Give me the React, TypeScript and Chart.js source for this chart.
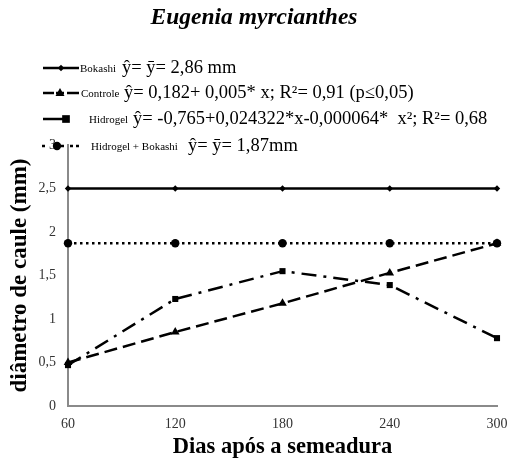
import React, { useEffect, useRef } from 'react';
import { Chart, registerables } from 'chart.js';

Chart.register(...registerables);

const days = [60, 120, 180, 240, 300];
const bokashi = [2.5, 2.5, 2.5, 2.5, 2.5];
const controle = [0.5, 0.85, 1.18, 1.53, 1.87];
const hidrogel = [0.47, 1.23, 1.55, 1.39, 0.78];
const hidrogelBokashi = [1.87, 1.87, 1.87, 1.87, 1.87];

const seriesNames = ['Bokashi', 'Controle', 'Hidrogel', 'Hidrogel + Bokashi'];
const equations = [
  'ŷ= ȳ= 2,86 mm',
  'ŷ= 0,182+ 0,005* x; R²= 0,91 (p≤0,05)',
  'ŷ= -0,765+0,024322*x-0,000064*  x²; R²= 0,68',
  'ŷ= ȳ= 1,87mm',
];
const chartTitle = 'Eugenia myrcianthes';
const xTitle = 'Dias após a semeadura';
const yTitle = 'diâmetro de caule (mm)';

const FONT = '"Liberation Serif", "Times New Roman", serif';

const styles = [
  { dash: [] as number[], point: 'rectRot', radius: 3.2 },
  { dash: [13, 6], point: 'triangle', radius: 5 },
  { dash: [15, 7, 3, 7], point: 'rect', radius: 4.3 },
  { dash: [2.5, 3.5], point: 'circle', radius: 4.2 },
];

function drawMarker(ctx: CanvasRenderingContext2D, style: string, x: number, y: number, r: number) {
  ctx.save();
  ctx.fillStyle = '#000';
  ctx.setLineDash([]);
  ctx.beginPath();
  if (style === 'rectRot') {
    ctx.moveTo(x, y - r); ctx.lineTo(x + r, y); ctx.lineTo(x, y + r); ctx.lineTo(x - r, y); ctx.closePath();
  } else if (style === 'triangle') {
    ctx.moveTo(x, y - r); ctx.lineTo(x + r * 0.9, y + r * 0.6); ctx.lineTo(x - r * 0.9, y + r * 0.6); ctx.closePath();
  } else if (style === 'rect') {
    ctx.rect(x - r * 0.8, y - r * 0.8, r * 1.6, r * 1.6);
  } else {
    ctx.arc(x, y, r, 0, Math.PI * 2);
  }
  ctx.fill();
  ctx.restore();
}

const legendRows = [
  { y: 68, segs: [[43, 79]], mx: 61, lx: 80, ex: 122 },
  { y: 93, segs: [[43, 54], [56, 64], [67, 79]], mx: 60, lx: 81, ex: 124 },
  { y: 119, segs: [[43, 66]], mx: 66, lx: 89, ex: 133 },
  { y: 146, segs: [[42, 45], [61, 64], [70, 73], [76, 79]], mx: 57, lx: 91, ex: 188 },
];

const overlayPlugin = {
  id: 'overlay',
  afterDraw(chart: any) {
    const ctx: CanvasRenderingContext2D = chart.ctx;
    ctx.save();
    ctx.fillStyle = '#000';
    ctx.textBaseline = 'middle';
    ctx.textAlign = 'center';
    ctx.font = `italic bold 23.5px ${FONT}`;
    ctx.fillText(chartTitle, 254, 18);

    legendRows.forEach((row, i) => {
      const st = styles[i];
      ctx.save();
      ctx.strokeStyle = '#000';
      ctx.lineWidth = 2.5;
      ctx.setLineDash([]);
      row.segs.forEach(([a, b]) => {
        ctx.beginPath();
        ctx.moveTo(a, row.y);
        ctx.lineTo(b, row.y);
        ctx.stroke();
      });
      ctx.restore();
      drawMarker(ctx, st.point, row.mx, row.y, st.radius + (i === 2 ? 0.5 : 0));
      ctx.textAlign = 'left';
      ctx.font = `11px ${FONT}`;
      ctx.fillText(seriesNames[i], row.lx, row.y + 1);
      ctx.font = `18.5px ${FONT}`;
      ctx.fillText(equations[i], row.ex, row.y);
    });
    ctx.restore();
  },
};

export default function App() {
  const ref = useRef<HTMLCanvasElement>(null);
  useEffect(() => {
    if (!ref.current) return;
    const seriesData = [bokashi, controle, hidrogel, hidrogelBokashi];
    const chart = new Chart(ref.current, {
      type: 'line',
      data: {
        datasets: seriesData.map((vals, i) => ({
          label: seriesNames[i],
          data: days.map((d, j) => ({ x: d, y: vals[j] })),
          borderColor: '#000',
          backgroundColor: '#000',
          borderWidth: 2.5,
          borderDash: styles[i].dash,
          pointStyle: styles[i].point as any,
          pointRadius: styles[i].radius,
          pointBackgroundColor: '#000',
          pointBorderColor: '#000',
          pointBorderWidth: 0,
          tension: 0,
          clip: false as any,
        })),
      },
      options: {
        animation: false,
        responsive: true,
        maintainAspectRatio: false,
        layout: { padding: { top: 145, right: 13, left: 0, bottom: 0 } },
        plugins: { legend: { display: false }, title: { display: false }, tooltip: { enabled: false } },
        scales: {
          x: {
            type: 'linear',
            min: 60,
            max: 300,
            ticks: { stepSize: 60, padding: 10, color: '#333', font: { family: FONT, size: 14 } },
            grid: { display: false, drawTicks: false },
            border: { display: true, color: '#8a8a8a', width: 2 },
            title: { display: true, text: xTitle, color: '#000', font: { family: FONT, size: 22.5, weight: 'bold' }, padding: { top: 0, bottom: 5 } },
            afterFit: (s: any) => { s.height = 60; s.paddingRight = 0; s.paddingLeft = 0; },
          },
          y: {
            min: 0,
            max: 3,
            ticks: {
              stepSize: 0.5,
              padding: 12,
              color: '#333',
              font: { family: FONT, size: 14 },
              callback: (v: any) => String(v).replace('.', ','),
            },
            grid: { display: false, drawTicks: false },
            border: { display: true, color: '#8a8a8a', width: 2 },
            title: { display: true, text: yTitle, color: '#000', font: { family: FONT, size: 23, weight: 'bold' }, padding: { top: 6, bottom: 0 } },
            afterFit: (s: any) => { s.width = 68; },
          },
        },
      } as any,
      plugins: [overlayPlugin],
    });
    return () => chart.destroy();
  }, []);
  return (
    <div style={{ position: 'fixed', left: 0, top: 0, width: 510, height: 466, background: '#fff' }}>
      <canvas ref={ref} />
    </div>
  );
}
